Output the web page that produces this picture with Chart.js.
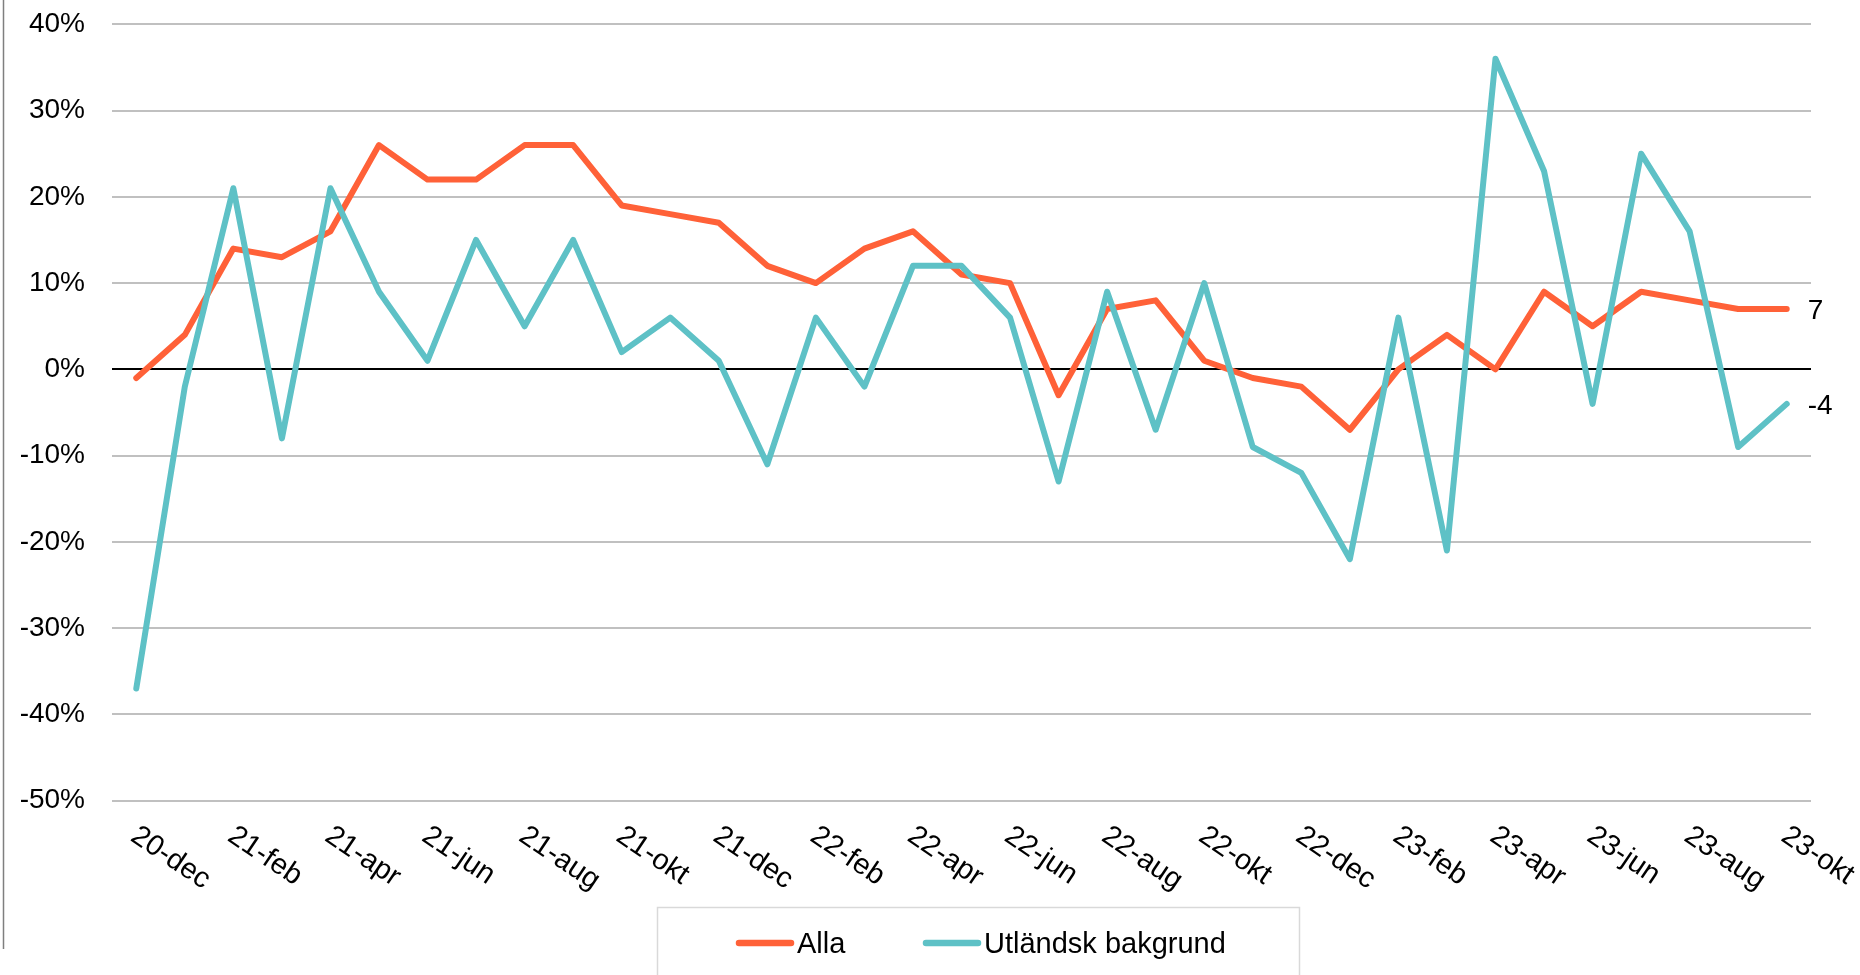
<!DOCTYPE html>
<html>
<head>
<meta charset="utf-8">
<script src="https://cdn.jsdelivr.net/npm/chart.js@4/dist/chart.umd.min.js"></script>
<style>
  html, body { margin: 0; padding: 0; background: #fff; }
  #c { display: block; }
</style>
</head>
<body>
<canvas id="c" width="1860" height="975"></canvas>
<script>
const categories = [
  '20-dec',
  '21-jan','21-feb','21-mar','21-apr','21-maj','21-jun','21-jul','21-aug','21-sep','21-okt','21-nov','21-dec',
  '22-jan','22-feb','22-mar','22-apr','22-maj','22-jun','22-jul','22-aug','22-sep','22-okt','22-nov','22-dec',
  '23-jan','23-feb','23-mar','23-apr','23-maj','23-jun','23-jul','23-aug','23-sep','23-okt'
];
const alla = [-1,4,14,13,16,26,22,22,26,26,19,18,17,12,10,14,16,11,10,-3,7,8,1,-1,-2,-7,0,4,0,9,5,9,8,7,7];
const utlandsk = [-37,-2,21,-8,21,9,1,15,5,15,2,6,1,-11,6,-2,12,12,6,-13,9,-7,10,-9,-12,-22,6,-21,36,23,-4,25,16,-9,-4];
const seriesNames = ['Alla', 'Utländsk bakgrund'];
const endLabels = ['7', '-4'];
const yTicks = { min: -50, max: 40, step: 10 };

const FONT = '"Liberation Sans", Arial, sans-serif';
const ORANGE = '#FF6138';
const TEAL = '#5EC1C6';

const customPlugin = {
  id: 'custom',
  afterDraw(chart) {
    const ctx = chart.ctx;
    const xs = chart.scales.x;
    const area = chart.chartArea;
    ctx.save();
    // left frame line
    ctx.strokeStyle = '#7f7f7f';
    ctx.lineWidth = 1.5;
    ctx.beginPath();
    ctx.moveTo(3.5, 0);
    ctx.lineTo(3.5, 949);
    ctx.stroke();

    // x tick labels (every second month)
    ctx.fillStyle = '#000';
    ctx.font = '29px ' + FONT;
    ctx.textAlign = 'left';
    ctx.textBaseline = 'alphabetic';
    categories.forEach((lab, i) => {
      if (i % 2 !== 0) return;
      const px = xs.getPixelForValue(i);
      ctx.save();
      ctx.translate(px - 7, area.bottom + 39);
      ctx.rotate(34 * Math.PI / 180);
      ctx.fillText(lab, 0, 0);
      ctx.restore();
    });

    // end labels
    ctx.font = '28px ' + FONT;
    ctx.textBaseline = 'middle';
    chart.data.datasets.forEach((ds, di) => {
      const meta = chart.getDatasetMeta(di);
      const pt = meta.data[meta.data.length - 1];
      ctx.fillText(endLabels[ds.srcIndex], pt.x + 21, pt.y + 2);
    });

    // legend
    ctx.strokeStyle = '#d9d9d9';
    ctx.lineWidth = 1.5;
    ctx.strokeRect(657.5, 907.5, 642, 90);
    const items = [
      { name: seriesNames[0], color: ORANGE, x0: 739, x1: 791, tx: 797 },
      { name: seriesNames[1], color: TEAL, x0: 926, x1: 978, tx: 984 }
    ];
    ctx.font = '29px ' + FONT;
    ctx.textBaseline = 'alphabetic';
    items.forEach(it => {
      ctx.strokeStyle = it.color;
      ctx.lineWidth = 6.5;
      ctx.lineCap = 'round';
      ctx.beginPath();
      ctx.moveTo(it.x0, 943);
      ctx.lineTo(it.x1, 943);
      ctx.stroke();
      ctx.fillStyle = '#000';
      ctx.fillText(it.name, it.tx, 953);
    });
    ctx.restore();
  }
};

new Chart(document.getElementById('c'), {
  type: 'line',
  data: {
    labels: categories,
    datasets: [
      {
        label: seriesNames[0], srcIndex: 0, data: alla,
        borderColor: ORANGE, backgroundColor: ORANGE, borderWidth: 6,
        pointRadius: 0, tension: 0, borderCapStyle: 'round', borderJoinStyle: 'round',
        order: 1
      },
      {
        label: seriesNames[1], srcIndex: 1, data: utlandsk,
        borderColor: TEAL, backgroundColor: TEAL, borderWidth: 6,
        pointRadius: 0, tension: 0, borderCapStyle: 'round', borderJoinStyle: 'round',
        order: 0
      }
    ]
  },
  options: {
    responsive: false,
    animation: false,
    events: [],
    layout: { padding: { top: 24.3, right: 49, bottom: 174.3, left: 0 } },
    plugins: { legend: { display: false }, tooltip: { enabled: false } },
    scales: {
      x: { type: 'category', offset: true, display: false },
      y: {
        min: yTicks.min, max: yTicks.max,
        afterFit(s) { s.width = 112; s.paddingTop = 0; s.paddingBottom = 0; },
        border: { display: false },
        grid: {
          drawTicks: false,
          color: c => (c.tick && c.tick.value === 0) ? '#000000' : '#c0c0c0',
          lineWidth: 2
        },
        ticks: {
          stepSize: yTicks.step,
          padding: 27,
          color: '#000',
          font: { family: FONT, size: 28 },
          callback: v => v + '%'
        }
      }
    }
  },
  plugins: [customPlugin]
});
</script>
</body>
</html>
